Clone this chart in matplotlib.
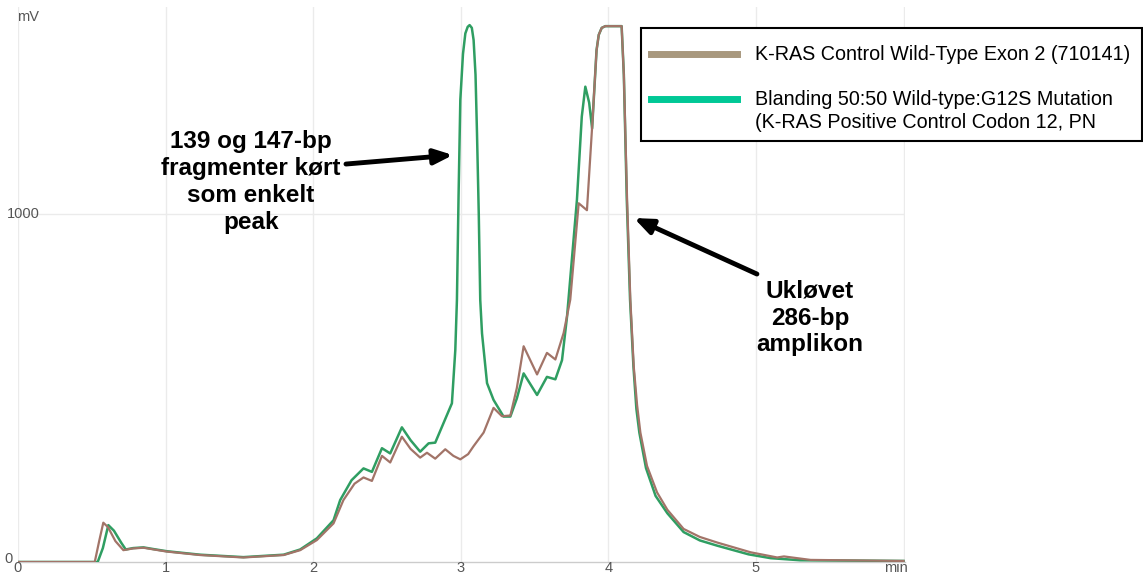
import matplotlib
matplotlib.use("Agg")
import matplotlib.pyplot as plt
from matplotlib.lines import Line2D
from matplotlib.patches import Rectangle

plt.rcParams['font.family'] = ['Liberation Sans', 'DejaVu Sans']

# ---- data (minutes, mV) ----
control_x = [0.0, 0.52, 0.55, 0.578, 0.61, 0.66, 0.714, 0.78, 0.85, 0.92, 1.008, 1.234, 1.527,
             1.8, 1.912, 2.025, 2.138, 2.205, 2.28, 2.341, 2.398, 2.466, 2.522, 2.601, 2.66,
             2.725, 2.771, 2.827, 2.895, 2.95, 2.997, 3.05, 3.087, 3.155, 3.222, 3.279, 3.336,
             3.38, 3.426, 3.517, 3.584, 3.641, 3.697, 3.742, 3.799, 3.855, 3.89, 3.92, 3.935,
             3.955, 3.98, 4.09, 4.105, 4.127, 4.149, 4.172, 4.195, 4.217, 4.262, 4.33, 4.4,
             4.51, 4.62, 4.737, 4.963, 5.144, 5.19, 5.37, 6.0]
control_y = [0, 0, 60, 113, 100, 60, 34, 39, 41, 36, 30, 20, 13,
             20, 34, 63, 111, 178, 225, 243, 233, 305, 286, 360, 325,
             300, 314, 297, 324, 305, 295, 310, 333, 372, 443, 419, 421,
             500, 620, 539, 601, 582, 658, 754, 1031, 1011, 1250, 1470, 1515,
             1535, 1540, 1540, 1400, 1040, 754, 562, 450, 372, 276, 200, 150,
             95, 72, 56, 28, 13, 16, 6, 3]

mix_x = [0.0, 0.54, 0.575, 0.612, 0.65, 0.7, 0.73, 0.78, 0.85, 0.92, 1.008, 1.234, 1.527,
         1.8, 1.912, 2.025, 2.138, 2.183, 2.26, 2.341, 2.398, 2.466, 2.522, 2.601, 2.66,
         2.725, 2.782, 2.827, 2.906, 2.94, 2.963, 2.974, 2.985, 2.997, 3.015, 3.031, 3.047,
         3.06, 3.075, 3.087, 3.1, 3.11, 3.122, 3.132, 3.144, 3.178, 3.222, 3.29, 3.336,
         3.38, 3.426, 3.517, 3.584, 3.641, 3.686, 3.72, 3.787, 3.82, 3.844, 3.87, 3.89,
         3.92, 3.935, 3.955, 3.98, 4.09, 4.105, 4.125, 4.147, 4.17, 4.19, 4.21, 4.255,
         4.32, 4.4, 4.51, 4.62, 4.737, 4.95, 5.1, 5.3, 6.0]
mix_y = [0, 0, 40, 106, 90, 55, 36, 40, 42, 37, 31, 21, 14,
         21, 36, 68, 120, 178, 235, 269, 259, 327, 312, 387, 350,
         317, 341, 343, 422, 456, 609, 753, 1050, 1328, 1460, 1519, 1538,
         1543, 1535, 1500, 1400, 1232, 1000, 753, 657, 514, 466, 418, 418,
         470, 542, 480, 532, 525, 580, 705, 1040, 1280, 1366, 1320, 1246,
         1471, 1515, 1535, 1540, 1540, 1400, 1040, 754, 562, 440, 372, 270,
         190, 140, 86, 62, 47, 22, 11, 5, 3]

x_ticks = [0, 1, 2, 3, 4, 5]
y_ticks = [0, 1000]
legend_labels = ["K-RAS Control Wild-Type Exon 2 (710141)",
                 "Blanding 50:50 Wild-type:G12S Mutation\n(K-RAS Positive Control Codon 12, PN"]
note_left = "139 og 147-bp\nfragmenter kørt\nsom enkelt\npeak"
note_right = "Ukløvet\n286-bp\namplikon"

W, H = 1143, 575
fig = plt.figure(figsize=(W / 100, H / 100), dpi=100)
ax = fig.add_axes([18 / W, 1 - 562 / H, (905 - 18) / W, (562 - 7) / H])
ax.set_xlim(0, 6.01)
ax.set_ylim(0, 1595)

for s in ['top', 'right', 'left']:
    ax.spines[s].set_visible(False)
ax.spines['bottom'].set_color('#cccccc')
ax.spines['bottom'].set_linewidth(1.0)
ax.set_xticks([])
ax.set_yticks([])
for xv in x_ticks:
    ax.axvline(xv, color='#ebebeb', lw=1.0, zorder=0)
ax.axvline(6.0, color='#ebebeb', lw=1.0, zorder=0)
ax.axhline(1000, color='#ebebeb', lw=1.0, zorder=0)

ax.plot(mix_x, mix_y, color='#2f9e62', lw=1.8, zorder=3, solid_joinstyle='round')
ax.plot(control_x, control_y, color='#a27468', lw=1.6, zorder=4, solid_joinstyle='round')

lab_kw = dict(color='#555555', fontsize=10.5)
# tick labels
for xv in x_ticks:
    ax.text(xv, -6 / 0.348, str(xv), ha='center', va='center', clip_on=False, **lab_kw)
ax.text(5.95, -6 / 0.348, "min", ha='center', va='center', clip_on=False, **lab_kw)
ax.text(-0.062, 3 / 0.348, str(y_ticks[0]), ha='center', va='center', clip_on=False, **lab_kw)
ax.text(0.035, 1000, str(y_ticks[1]), ha='center', va='center', clip_on=False, **lab_kw)
ax.text(0.07, (562 - 17) / 0.348, "mV", ha='center', va='center', clip_on=False, **lab_kw)

# annotations
ax.annotate("", xy=((453 - 18) / 147.6, (562 - 155) / 0.348),
            xytext=((346 - 18) / 147.6, (562 - 164) / 0.348),
            arrowprops=dict(arrowstyle='-|>,head_length=1.1,head_width=0.45', color='black', lw=3.5,
                            shrinkA=0, shrinkB=0))
ax.text((251 - 18) / 147.6, (562 - 182) / 0.348, note_left, ha='center', va='center',
        fontsize=17.5, fontweight='bold', linespacing=1.22)
ax.annotate("", xy=((634 - 18) / 147.6, (562 - 218) / 0.348),
            xytext=((757 - 18) / 147.6, (562 - 274) / 0.348),
            arrowprops=dict(arrowstyle='-|>,head_length=1.1,head_width=0.45', color='black', lw=3.5,
                            shrinkA=0, shrinkB=0))
ax.text((810 - 18) / 147.6, (562 - 318) / 0.348, note_right, ha='center', va='center',
        fontsize=17.5, fontweight='bold', linespacing=1.22)

# legend box (figure pixels)
def fx(p):
    return p / W

def fy(p):
    return 1 - p / H

fig.patches.append(Rectangle((fx(641), fy(141)), fx(1142) - fx(641), fy(28) - fy(141),
                             transform=fig.transFigure, facecolor='white', edgecolor='black',
                             lw=1.5, zorder=10))
fig.lines.append(Line2D([fx(651), fx(737)], [fy(54), fy(54)], transform=fig.transFigure,
                        color='#a8987e', lw=5, zorder=11))
fig.lines.append(Line2D([fx(651), fx(737)], [fy(99), fy(99)], transform=fig.transFigure,
                        color='#00c896', lw=5, zorder=11))
fig.text(fx(755), fy(54), legend_labels[0], ha='left', va='center', fontsize=14.2, zorder=12)
fig.text(fx(755), fy(111), legend_labels[1], ha='left', va='center', fontsize=14.2,
         linespacing=1.25, zorder=12)

fig.savefig("out.png", dpi=100)
